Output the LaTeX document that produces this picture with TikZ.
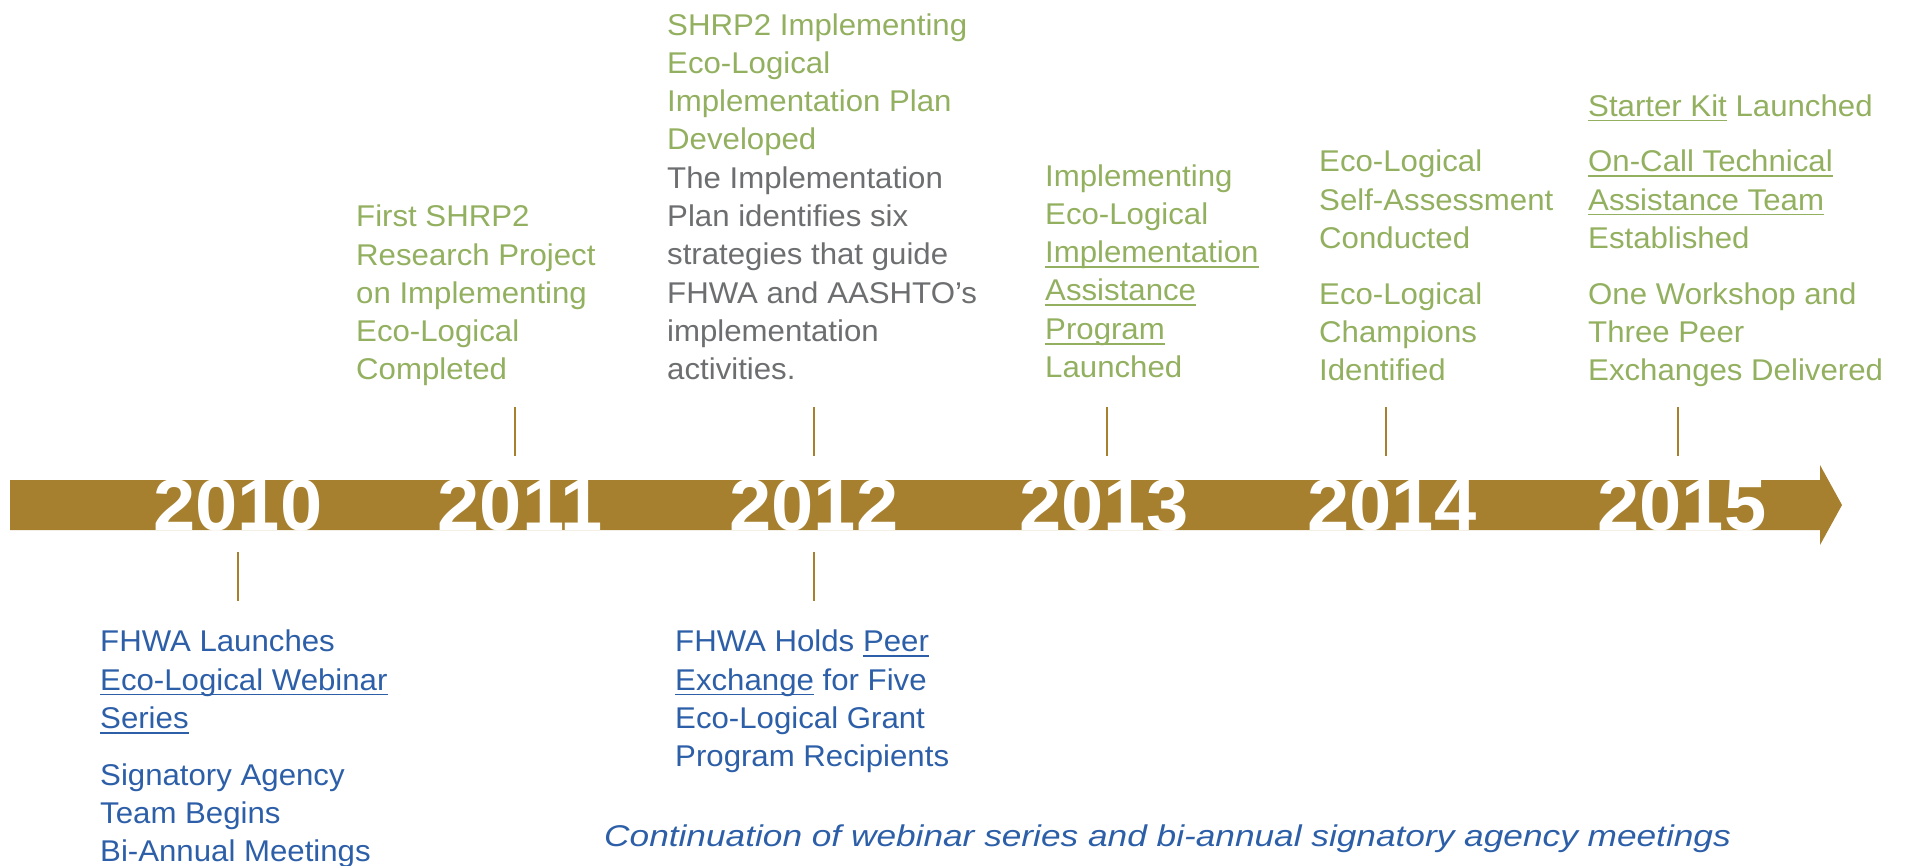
\documentclass[tikz,border=0pt]{standalone}
\usepackage{fontspec}
\setmainfont{Liberation Sans}[FakeStretch=1.04]
\newfontfamily\contfont{Liberation Sans}[FakeStretch=1.175]
\newsavebox{\myulbox}
\newcommand{\myul}[1]{\sbox{\myulbox}{#1}\rlap{\rule[-5.3pt]{\wd\myulbox}{1.8pt}}\usebox{\myulbox}}
\definecolor{gold}{HTML}{A6802E}
\definecolor{tgreen}{HTML}{92B05F}
\definecolor{tblue}{HTML}{2D5FA8}
\definecolor{tgrey}{HTML}{6D6E70}
\tikzset{
  txt/.style={anchor=base west, inner sep=0pt, align=left, font=\fontsize{30}{38.3}\selectfont},
  greentxt/.style={txt, text=tgreen},
  bluetxt/.style={txt, text=tblue},
  greytxt/.style={txt, text=tgrey},
  year/.style={anchor=base, inner sep=0pt, text=white, font=\fontsize{73}{80}\selectfont\bfseries},
  tick/.style={draw=gold, line width=2.5pt},
}
\begin{document}
\begin{tikzpicture}[x=1pt,y=-1pt]
\useasboundingbox (0,0) rectangle (1906,865);
% arrow bar
\fill[gold] (10,480) -- (1820,480) -- (1820,465) -- (1842,505) -- (1820,545) -- (1820,530) -- (10,530) -- cycle;
% years
\node[year] (y2010) at (238,530) {2010};
\node[year] (y2011) at (520,530) {2011};
\node[year] (y2012) at (814,530) {2012};
\node[year] (y2013) at (1104,530) {2013};
\node[year] (y2014) at (1392,530) {2014};
\node[year] (y2015) at (1682,530) {2015};
% ticks
\coordinate (t11a) at (515,407); \coordinate (t11b) at (515,456);
\coordinate (t12a) at (814,407); \coordinate (t12b) at (814,456);
\coordinate (t13a) at (1107,407); \coordinate (t13b) at (1107,456);
\coordinate (t14a) at (1386,407); \coordinate (t14b) at (1386,456);
\coordinate (t15a) at (1678,407); \coordinate (t15b) at (1678,456);
\coordinate (b10a) at (238,552); \coordinate (b10b) at (238,601);
\coordinate (b12a) at (814,552); \coordinate (b12b) at (814,601);
\foreach \a/\b in {t11a/t11b,t12a/t12b,t13a/t13b,t14a/t14b,t15a/t15b,b10a/b10b,b12a/b12b}
  \draw[tick] (\a) -- (\b);
% (node base = baseline of last line)
% 2011
\node[greentxt] (e2011) at (356,379.9) {First SHRP2\\Research Project\\on Implementing\\Eco-Logical\\Completed};
% 2012 upper
\node[greentxt] (e2012a) at (667,149.9) {SHRP2 Implementing\\Eco-Logical\\Implementation Plan\\Developed};
\node[greytxt] (e2012b) at (667,379.8) {The Implementation\\Plan identifies six\\strategies that guide\\FHWA and AASHTO’s\\implementation\\activities.};
% 2013
\node[greentxt] (e2013) at (1045,377.5) {Implementing\\Eco-Logical\\\myul{Implementation}\\\myul{Assistance}\\\myul{Program}\\Launched};
% 2014
\node[greentxt] (e2014a) at (1319,248.3) {Eco-Logical\\Self-Assessment\\Conducted};
\node[greentxt] (e2014b) at (1319,380.6) {Eco-Logical\\Champions\\Identified};
% 2015
\node[greentxt] (e2015a) at (1588,116) {\myul{Starter Kit} Launched};
\node[greentxt] (e2015b) at (1588,248.3) {\myul{On-Call Technical}\\\myul{Assistance Team}\\Established};
\node[greentxt] (e2015c) at (1588,380.6) {One Workshop and\\Three Peer\\Exchanges Delivered};
% 2010 lower
\node[bluetxt] (e2010a) at (100,728.3) {FHWA Launches\\\myul{Eco-Logical Webinar}\\\myul{Series}};
\node[bluetxt] (e2010b) at (100,861.9) {Signatory Agency\\Team Begins\\Bi-Annual Meetings};
% 2012 lower
\node[bluetxt] (e2012c) at (675,766.6) {FHWA Holds \myul{Peer}\\\myul{Exchange} for Five\\Eco-Logical Grant\\Program Recipients};
% continuation
\node[bluetxt, font=\fontsize{30}{38.3}\selectfont\contfont\itshape] (cont) at (604,846.7) {Continuation of webinar series and bi-annual signatory agency meetings};
\end{tikzpicture}
\end{document}
